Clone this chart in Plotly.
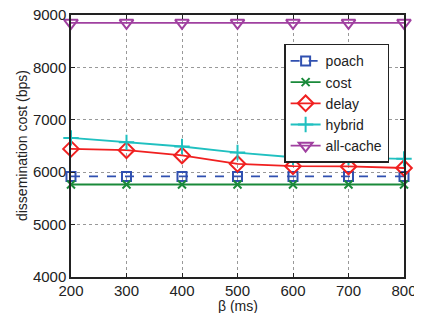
import plotly.graph_objects as go

beta = [200, 300, 400, 500, 600, 700, 800]
poach = [5920, 5920, 5920, 5920, 5920, 5920, 5920]
cost = [5765, 5765, 5765, 5765, 5765, 5765, 5765]
delay = [6445, 6420, 6320, 6160, 6115, 6110, 6080]
hybrid = [6655, 6570, 6490, 6375, 6285, 6280, 6255]
allcache = [8850, 8850, 8850, 8850, 8850, 8850, 8850]
yticks = [4000, 5000, 6000, 7000, 8000, 9000]

series = [
    ("poach", poach, "#3050b0", "square-open", "dash", 9),
    ("cost", cost, "#1a8a3a", "x-thin-open", "solid", 8),
    ("delay", delay, "#f02020", "diamond-open", "solid", 12),
    ("hybrid", hybrid, "#20c0c0", "cross-thin-open", "solid", 11),
    ("all-cache", allcache, "#a040a0", "triangle-down-open", "solid", 12),
]

fig = go.Figure()
for name, vals, color, sym, dash, size in series:
    fig.add_trace(go.Scatter(
        x=beta, y=vals, name=name, mode="lines+markers",
        line=dict(color=color, width=1.8, dash=dash),
        marker=dict(symbol=sym, size=size, color=color, line=dict(color=color, width=2)),
        cliponaxis=False,
    ))

axis_common = dict(
    showline=True, linecolor="#222", linewidth=1.5, mirror="ticks",
    ticks="inside", ticklen=4, tickcolor="#222",
    showgrid=True, gridcolor="#999", griddash="dot", gridwidth=1,
    zeroline=False, tickfont=dict(size=15, color="#222"), automargin=False,
    ticklabeloverflow="allow",
)

fig.update_layout(
    width=414, height=305,
    margin=dict(l=63, r=18, t=7, b=36),
    paper_bgcolor="white", plot_bgcolor="white",
    font=dict(family="Liberation Sans, Arial, sans-serif", color="#222"),
    xaxis=dict(range=[200, 800], tickvals=beta, ticklabelstandoff=-1, **axis_common),
    yaxis=dict(range=[4000, 9000], tickvals=yticks, **axis_common),
    legend=dict(x=0.64, y=0.89, xanchor="left", yanchor="top",
                bgcolor="white", bordercolor="#222", borderwidth=1.5,
                font=dict(size=14), tracegroupgap=0, itemwidth=30),
    showlegend=True,
    annotations=[
        dict(text="β (ms)", x=0.5, y=-0.11, xref="paper", yref="paper",
             xanchor="center", yanchor="middle", showarrow=False, font=dict(size=14)),
        dict(text="dissemination cost (bps)", x=-0.147, y=0.5, xref="paper", yref="paper",
             xanchor="center", yanchor="middle", showarrow=False, textangle=-90,
             font=dict(size=14)),
    ],
)

fig.write_html("out.html")
